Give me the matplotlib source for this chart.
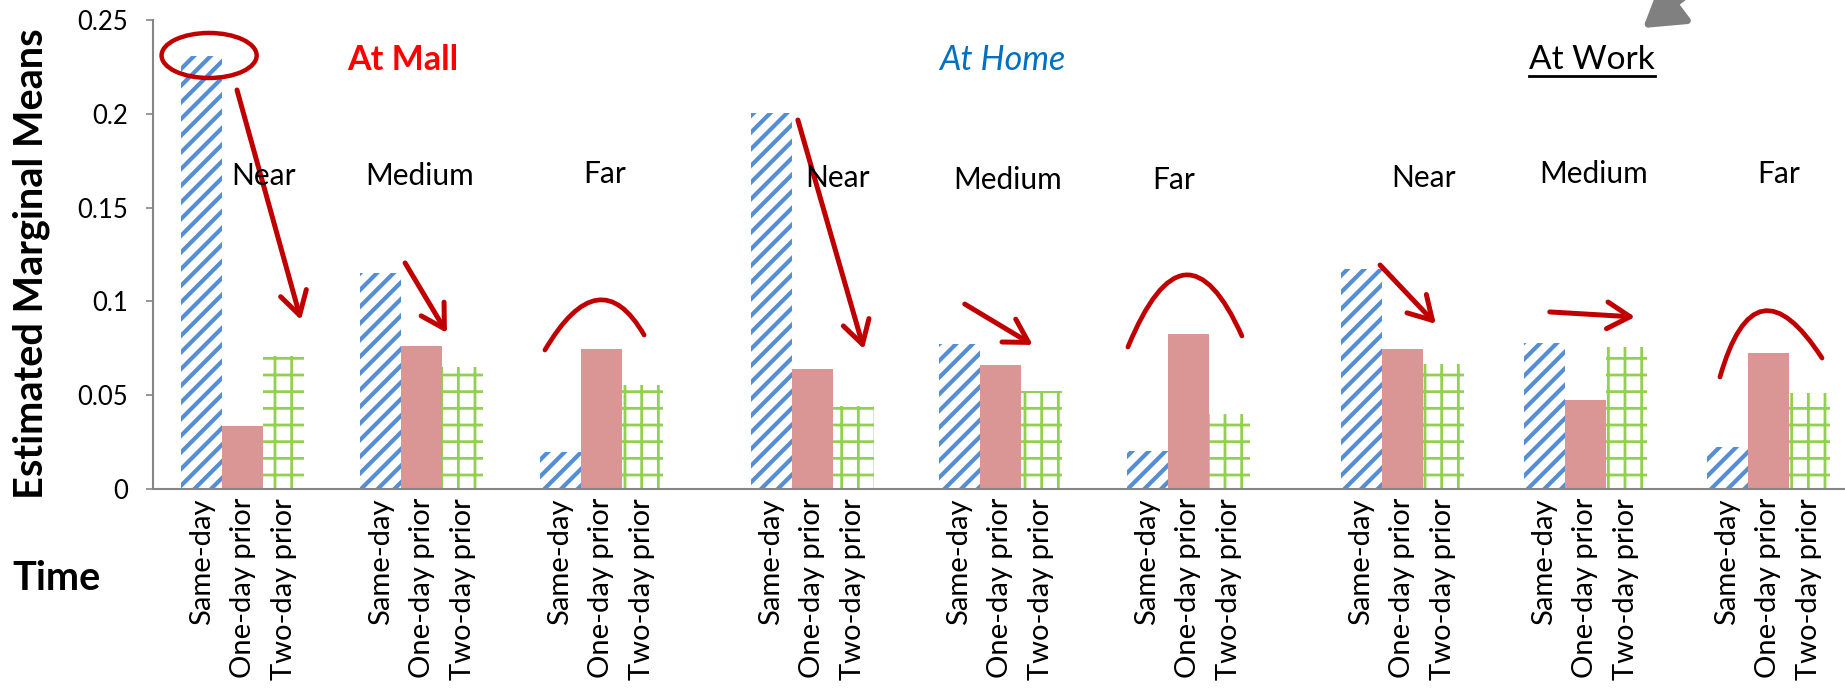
import numpy as np
import matplotlib
matplotlib.use("Agg")
import matplotlib.pyplot as plt
from matplotlib import patches
from matplotlib.path import Path
from matplotlib.ticker import FuncFormatter

plt.rcParams['font.family'] = ['Lato', 'DejaVu Sans']

# Estimated marginal means, one value per location/distance group
locations = ['At Mall', 'At Home', 'At Work']
distances = ['Near', 'Medium', 'Far']
times = ['Same-day', 'One-day prior', 'Two-day prior']

same_day = [0.231, 0.115, 0.0195, 0.2004, 0.0775, 0.0201, 0.1175, 0.0776, 0.0226]
one_day = [0.0337, 0.0765, 0.0744, 0.0641, 0.066, 0.0825, 0.0747, 0.0475, 0.0726]
two_day = [0.071, 0.0652, 0.0553, 0.044, 0.0521, 0.0402, 0.0666, 0.0759, 0.0514]

blue = '#558ED5'
pink = '#D99694'
green = '#92D050'
dark_red = '#C00000'
axis_gray = '#868686'

# group layout (bar width = 1 unit); each location block has its own spacing
loc_first = [0.1, 13.99, 28.38]
loc_pitch = [4.37, 4.585, 4.463]
centers = np.array([loc_first[loc] + d * loc_pitch[loc]
                    for loc in range(3) for d in range(3)])

fig = plt.figure(figsize=(18.45, 6.88), dpi=100)
ax = fig.add_axes([0.0829, 0.2892, 0.9171, 0.6817])

with plt.rc_context({'hatch.linewidth': 3.0}):
    ax.bar(centers - 1, same_day, width=1, facecolor='white', edgecolor=blue,
           linewidth=0, hatch='//')
ax.bar(centers, one_day, width=1, color=pink, linewidth=0)
with plt.rc_context({'hatch.linewidth': 2.0}):
    ax.bar(centers + 1, two_day, width=1, facecolor='white', edgecolor=green,
           linewidth=0, hatch='+')

ax.set_xlim(-2.09, 39.18)
ax.set_ylim(0, 0.25)
ax.set_yticks([0, 0.05, 0.1, 0.15, 0.2, 0.25])
ax.yaxis.set_major_formatter(FuncFormatter(lambda v, p: '%g' % v))
ax.tick_params(axis='y', labelsize=18.5, length=5, width=1.2, color=axis_gray,
               pad=13, direction='out')

tick_pos = np.concatenate([centers - 1, centers, centers + 1])
tick_lab = [times[0]] * 9 + [times[1]] * 9 + [times[2]] * 9
ax.set_xticks(tick_pos)
ax.set_xticklabels(tick_lab, rotation=90, fontsize=21)
ax.tick_params(axis='x', length=0, pad=6.5)

for side in ['top', 'right']:
    ax.spines[side].set_visible(False)
for side in ['left', 'bottom']:
    ax.spines[side].set_color(axis_gray)
    ax.spines[side].set_linewidth(1.5)

# axis titles
fig.text(31 / 1845, 1 - 264 / 688, 'Estimated Marginal Means', rotation=90,
         fontsize=28.5, fontweight='bold', ha='center', va='center')
fig.text(12 / 1845, 1 - 579 / 688, 'Time', fontsize=28.5, fontweight='bold',
         ha='left', va='center')

# location headings
title_y = 0.2285
ax.text(4.0, title_y, locations[0], color='#FF0000', fontsize=24.5,
        fontweight='bold', ha='center', va='center')
ax.text(18.62, title_y, locations[1], color='#0070C0', fontsize=24.5,
        style='italic', ha='center', va='center')
work = ax.text(33.01, title_y, locations[2], color='black', fontsize=24,
               ha='center', va='center')

# distance labels
dist_x = [0.62, 4.42, 8.94, 14.62, 18.76, 22.8, 28.9, 33.06, 37.57]
dist_y = [0.1668, 0.1668, 0.1679, 0.1658, 0.1647, 0.1647, 0.1658, 0.1679, 0.1679]
for i in range(9):
    ax.text(dist_x[i], dist_y[i], distances[i % 3], fontsize=21.5,
            ha='center', va='center')

# hand-drawn trend marks
ax.add_patch(patches.Ellipse((-0.72, 0.2311), 2.32, 0.0240, fill=False,
                             edgecolor=dark_red, linewidth=3.2, clip_on=False))

arrows = [((-0.04, 0.2127), (1.52, 0.0901)),
          ((4.06, 0.1205), (5.08, 0.0832)),
          ((13.64, 0.1967), (15.25, 0.0746)),
          ((17.71, 0.0986), (19.37, 0.0768)),
          ((27.84, 0.1194), (29.20, 0.0880)),
          ((31.98, 0.0944), (34.06, 0.0917))]
for start, end in arrows:
    ax.add_patch(patches.FancyArrowPatch(
        start, end, arrowstyle='->, head_length=0.55, head_width=0.32',
        mutation_scale=30, color=dark_red, linewidth=3.6, shrinkA=0, shrinkB=0,
        capstyle='round', joinstyle='round', clip_on=False))

arcs = [((7.47, 0.0741), (8.74, 0.1007), (9.89, 0.0821)),
        ((21.69, 0.0757), (23.08, 0.1141), (24.47, 0.0816)),
        ((36.13, 0.0597), (37.18, 0.0949), (38.62, 0.0698))]
for p0, top, p2 in arcs:
    p0, top, p2 = np.array(p0), np.array(top), np.array(p2)
    ctrl = 2 * top - (p0 + p2) / 2
    path = Path([p0, ctrl, p2], [Path.MOVETO, Path.CURVE3, Path.CURVE3])
    ax.add_patch(patches.PathPatch(path, fill=False, edgecolor=dark_red,
                                   linewidth=3.4, capstyle='round', clip_on=False))

# grey pointer at the top edge
fig.add_artist(patches.FancyArrowPatch(
    (1700 / 1845, 1 + 15 / 688), (1643 / 1845, 1 - 28 / 688),
    transform=fig.transFigure, arrowstyle='-|>, head_length=0.8, head_width=0.5',
    mutation_scale=30, color='#808080', linewidth=5, shrinkA=0, shrinkB=0))

# underline under "At Work"
fig.canvas.draw()
bb = work.get_window_extent()
inv = fig.transFigure.inverted()
(x0, y0), (x1, _) = inv.transform([(bb.x0, bb.y0 - 1), (bb.x1, bb.y0)])
fig.add_artist(plt.Line2D([x0, x1], [y0, y0], color='black', linewidth=2,
                          transform=fig.transFigure))

fig.savefig('out.png', dpi=100)
